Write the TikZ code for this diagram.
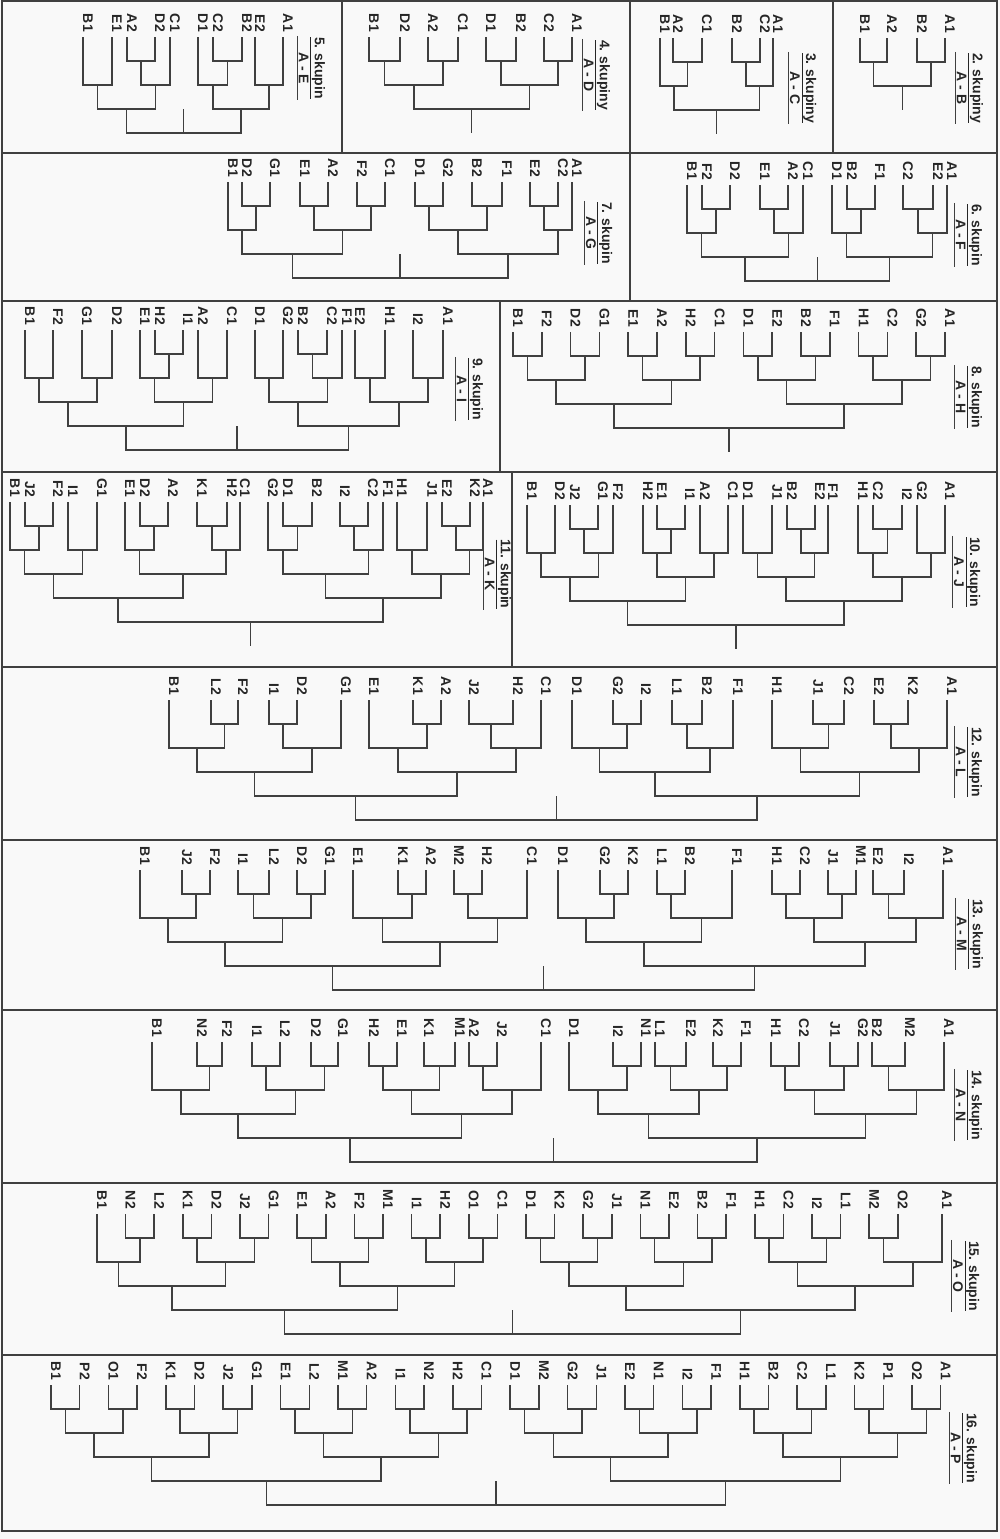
\documentclass[tikz,border=0pt]{standalone}
\usepackage{fontspec}
\setmainfont{Liberation Sans}
\usetikzlibrary{calc}
\newcommand\mkleaf[3]{%
  \node[lab] (t\PN x#1) at ({#2+5},{\PY-5}) {#3};
  \coordinate (n\PN x#1) at ({#2},{\PY});}
\newcommand\mkleafe[2]{\mkleaf{#1}{\PX+\PD*(#1-1)}{#2}}
\newcommand\mkfork[4]{%
  \coordinate (n\PN#1m) at ($(n\PN#2)!0.5!(n\PN#3)$);
  \coordinate (yb) at (0,{\PY+24*#4});
  \coordinate (n\PN#1) at (n\PN#1m |- yb);
  \draw[br] (n\PN#2) |- (n\PN#1) -| (n\PN#3);}
\newcommand\mkstem[2]{%
  \coordinate (n\PN s) at ($(n\PN#1)+(0,{24*#2})$);
  \draw[br] (n\PN#1) -- (n\PN s);}
\newcommand\mktitle[4]{%
  \node[ttl] (T\PN) at (#1,#2) {\underline{#3}\\#4};
  \draw[br] (T\PN.south west) -- (T\PN.south east);}
\newcommand\mktop[1]{%
  \mkfork{c1}{b1}{b2}{3}\mkfork{c2}{b3}{b4}{3}\mkfork{c3}{b5}{b6}{3}\mkfork{c4}{b7}{b8}{3}%
  \mkfork{d1}{c1}{c2}{4}\mkfork{d2}{c3}{c4}{4}\mkfork{z}{d1}{d2}{5}\mkstem{z}{#1}}
\begin{document}
\begin{tikzpicture}[x=1pt,y=-1pt,
  lab/.style={rotate=-90,anchor=east,inner sep=0pt,font=\bfseries\fontsize{14}{16}\selectfont,text=black!85},
  ttl/.style={rotate=-90,align=center,inner sep=1pt,font=\bfseries\fontsize{14}{16}\selectfont,text=black!85},
  br/.style={line width=1.5pt,draw=black!75},
  frm/.style={line width=2.4pt,draw=black!75}]
\fill[gray!5] (0,0) rectangle (1000,1539);
\useasboundingbox (0,0) rectangle (1000,1539);
% frame and separators
\draw[frm] (2,1) rectangle (997,1531);
\draw[frm] (2,153) -- (997,153);
\draw[frm] (2,301) -- (997,301);
\draw[frm] (2,472) -- (997,472);
\draw[frm] (2,667) -- (997,667);
\draw[frm] (2,840) -- (997,840);
\draw[frm] (2,1010) -- (997,1010);
\draw[frm] (2,1183) -- (997,1183);
\draw[frm] (2,1355) -- (997,1355);
\draw[frm] (342,1) -- (342,153);
\draw[frm] (630,1) -- (630,153);
\draw[frm] (833,1) -- (833,153);
\draw[frm] (630,153) -- (630,301);
\draw[frm] (500,301) -- (500,472);
\draw[frm] (512,472) -- (512,667);
% ---------- 2. skupiny
\def\PN{2}\def\PY{38}
\mkleaf{1}{860}{B1}\mkleaf{2}{887}{A2}\mkleaf{3}{917}{B2}\mkleaf{4}{945}{A1}
\mkfork{a}{x1}{x2}{1}\mkfork{b}{x3}{x4}{1}\mkfork{z}{a}{b}{2}\mkstem{z}{1}
\mktitle{970}{88}{2. skupiny}{A - B}
% ---------- 3. skupiny
\def\PN{3}\def\PY{38}
\mkleaf{1}{660}{B1}\mkleaf{2}{673}{A2}\mkleaf{3}{702}{C1}\mkleaf{4}{732}{B2}\mkleaf{5}{760}{C2}\mkleaf{6}{773}{A1}
\mkfork{a}{x2}{x3}{1}\mkfork{b}{x4}{x5}{1}\mkfork{c}{x1}{a}{2}\mkfork{d}{b}{x6}{2}\mkfork{z}{c}{d}{3}\mkstem{z}{1}
\mktitle{803}{88}{3. skupiny}{A - C}
% ---------- 4. skupiny
\def\PN{4}\def\PY{37}
\mkleaf{1}{369}{B1}\mkleaf{2}{400}{D2}\mkleaf{3}{428}{A2}\mkleaf{4}{458}{C1}\mkleaf{5}{486}{D1}\mkleaf{6}{516}{B2}\mkleaf{7}{544}{C2}\mkleaf{8}{572}{A1}
\mkfork{a}{x1}{x2}{1}\mkfork{b}{x3}{x4}{1}\mkfork{c}{x5}{x6}{1}\mkfork{d}{x7}{x8}{1}\mkfork{e}{a}{b}{2}\mkfork{f}{c}{d}{2}\mkfork{z}{e}{f}{3}\mkstem{z}{1}
\mktitle{597}{75}{4. skupiny}{A - D}
% ---------- 5. skupin
\def\PN{5}\def\PY{37}
\mkleaf{1}{83}{B1}\mkleaf{2}{112}{E1}\mkleaf{3}{127}{A2}\mkleaf{4}{155}{D2}\mkleaf{5}{170}{C1}\mkleaf{6}{198}{D1}\mkleaf{7}{213}{C2}\mkleaf{8}{242}{B2}\mkleaf{9}{255}{E2}\mkleaf{10}{283}{A1}
\mkfork{a}{x3}{x4}{1}\mkfork{b}{x7}{x8}{1}\mkfork{c}{x1}{x2}{2}\mkfork{d}{a}{x5}{2}\mkfork{e}{x6}{b}{2}\mkfork{f}{x9}{x10}{2}\mkfork{g}{c}{d}{3}\mkfork{h}{e}{f}{3}\mkfork{z}{g}{h}{4}\mkstem{z}{-1}
\mktitle{312}{68}{5. skupin}{A - E}
% ---------- 6. skupin
\def\PN{6}\def\PY{185}
\mkleaf{1}{687}{B1}\mkleaf{2}{702}{F2}\mkleaf{3}{730}{D2}\mkleaf{4}{760}{E1}\mkleaf{5}{788}{A2}\mkleaf{6}{803}{C1}\mkleaf{7}{832}{D1}\mkleaf{8}{847}{B2}\mkleaf{9}{875}{F1}\mkleaf{10}{903}{C2}\mkleaf{11}{933}{E2}\mkleaf{12}{947}{A1}
\mkfork{a}{x2}{x3}{1}\mkfork{b}{x4}{x5}{1}\mkfork{c}{x8}{x9}{1}\mkfork{d}{x10}{x11}{1}\mkfork{e}{x1}{a}{2}\mkfork{f}{b}{x6}{2}\mkfork{g}{x7}{c}{2}\mkfork{h}{d}{x12}{2}\mkfork{i}{e}{f}{3}\mkfork{k}{g}{h}{3}\mkfork{z}{i}{k}{4}\mkstem{z}{-1}
\mktitle{969}{235}{6. skupin}{A - F}
% ---------- 7. skupin
\def\PN{7}\def\PY{182}
\mkleaf{1}{228}{B1}\mkleaf{2}{242}{D2}\mkleaf{3}{270}{G1}\mkleaf{4}{300}{E1}\mkleaf{5}{328}{A2}\mkleaf{6}{357}{F2}\mkleaf{7}{385}{C1}\mkleaf{8}{415}{D1}\mkleaf{9}{443}{G2}\mkleaf{10}{472}{B2}\mkleaf{11}{502}{F1}\mkleaf{12}{530}{E2}\mkleaf{13}{558}{C2}\mkleaf{14}{572}{A1}
\mkfork{a}{x2}{x3}{1}\mkfork{b}{x4}{x5}{1}\mkfork{c}{x6}{x7}{1}\mkfork{d}{x8}{x9}{1}\mkfork{e}{x10}{x11}{1}\mkfork{f}{x12}{x13}{1}
\mkfork{g}{x1}{a}{2}\mkfork{h}{b}{c}{2}\mkfork{i}{d}{e}{2}\mkfork{k}{f}{x14}{2}\mkfork{l}{g}{h}{3}\mkfork{m}{i}{k}{3}\mkfork{z}{l}{m}{4}\mkstem{z}{-1}
\mktitle{599}{233}{7. skupin}{A - G}
% ---------- 8. skupin
\def\PN{8}\def\PY{332}\def\PX{513}\def\PD{28.8}
\mkleafe{1}{B1}\mkleafe{2}{F2}\mkleafe{3}{D2}\mkleafe{4}{G1}\mkleafe{5}{E1}\mkleafe{6}{A2}\mkleafe{7}{H2}\mkleafe{8}{C1}\mkleafe{9}{D1}\mkleafe{10}{E2}\mkleafe{11}{B2}\mkleafe{12}{F1}\mkleafe{13}{H1}\mkleafe{14}{C2}\mkleafe{15}{G2}\mkleafe{16}{A1}
\mkfork{a1}{x1}{x2}{1}\mkfork{a2}{x3}{x4}{1}\mkfork{a3}{x5}{x6}{1}\mkfork{a4}{x7}{x8}{1}\mkfork{a5}{x9}{x10}{1}\mkfork{a6}{x11}{x12}{1}\mkfork{a7}{x13}{x14}{1}\mkfork{a8}{x15}{x16}{1}
\mkfork{b1}{a1}{a2}{2}\mkfork{b2}{a3}{a4}{2}\mkfork{b3}{a5}{a6}{2}\mkfork{b4}{a7}{a8}{2}
\mkfork{c1}{b1}{b2}{3}\mkfork{c2}{b3}{b4}{3}\mkfork{z}{c1}{c2}{4}\mkstem{z}{1}
\mktitle{969}{397}{8. skupin}{A - H}
% ---------- 9. skupin
\def\PN{9}\def\PY{330}
\mkleaf{1}{25}{B1}\mkleaf{2}{53}{F2}\mkleaf{3}{82}{G1}\mkleaf{4}{112}{D2}\mkleaf{5}{140}{E1}\mkleaf{6}{155}{H2}\mkleaf{7}{183}{I1}\mkleaf{8}{198}{A2}\mkleaf{9}{227}{C1}\mkleaf{10}{255}{D1}\mkleaf{11}{283}{G2}\mkleaf{12}{298}{B2}\mkleaf{13}{327}{C2}\mkleaf{14}{342}{F1}\mkleaf{15}{355}{E2}\mkleaf{16}{385}{H1}\mkleaf{17}{413}{I2}\mkleaf{18}{443}{A1}
\mkfork{a}{x6}{x7}{1}\mkfork{b}{x12}{x13}{1}
\mkfork{b1}{x1}{x2}{2}\mkfork{b2}{x3}{x4}{2}\mkfork{b3}{x5}{a}{2}\mkfork{b4}{x8}{x9}{2}\mkfork{b5}{x10}{x11}{2}\mkfork{b6}{b}{x14}{2}\mkfork{b7}{x15}{x16}{2}\mkfork{b8}{x17}{x18}{2}
\mktop{-1}
\mktitle{470}{389}{9. skupin}{A - I}
% ---------- 10. skupin
\def\PN{10}\def\PY{505}
\mkleaf{1}{527}{B1}\mkleaf{2}{555}{D2}\mkleaf{3}{570}{J2}\mkleaf{4}{598}{G1}\mkleaf{5}{613}{F2}\mkleaf{6}{643}{H2}\mkleaf{7}{657}{E1}\mkleaf{8}{685}{I1}\mkleaf{9}{700}{A2}\mkleaf{10}{728}{C1}\mkleaf{11}{743}{D1}\mkleaf{12}{772}{J1}\mkleaf{13}{787}{B2}\mkleaf{14}{815}{E2}\mkleaf{15}{828}{F1}\mkleaf{16}{858}{H1}\mkleaf{17}{873}{C2}\mkleaf{18}{902}{I2}\mkleaf{19}{917}{G2}\mkleaf{20}{945}{A1}
\mkfork{a}{x3}{x4}{1}\mkfork{b}{x7}{x8}{1}\mkfork{c}{x13}{x14}{1}\mkfork{d}{x17}{x18}{1}
\mkfork{b1}{x1}{x2}{2}\mkfork{b2}{a}{x5}{2}\mkfork{b3}{x6}{b}{2}\mkfork{b4}{x9}{x10}{2}\mkfork{b5}{x11}{x12}{2}\mkfork{b6}{c}{x15}{2}\mkfork{b7}{x16}{d}{2}\mkfork{b8}{x19}{x20}{2}
\mktop{1}
\mktitle{967}{572}{10. skupin}{A - J}
% ---------- 11. skupin
\def\PN{11}\def\PY{502}
\mkleaf{1}{10}{B1}\mkleaf{2}{25}{J2}\mkleaf{3}{53}{F2}\mkleaf{4}{68}{I1}\mkleaf{5}{97}{G1}\mkleaf{6}{125}{E1}\mkleaf{7}{140}{D2}\mkleaf{8}{168}{A2}\mkleaf{9}{197}{K1}\mkleaf{10}{227}{H2}\mkleaf{11}{240}{C1}\mkleaf{12}{268}{G2}\mkleaf{13}{283}{D1}\mkleaf{14}{312}{B2}\mkleaf{15}{340}{I2}\mkleaf{16}{368}{C2}\mkleaf{17}{383}{F1}\mkleaf{18}{397}{H1}\mkleaf{19}{427}{J1}\mkleaf{20}{442}{E2}\mkleaf{21}{470}{K2}\mkleaf{22}{483}{A1}
\mkfork{a}{x2}{x3}{1}\mkfork{b}{x7}{x8}{1}\mkfork{c}{x9}{x10}{1}\mkfork{d}{x13}{x14}{1}\mkfork{e}{x15}{x16}{1}\mkfork{f}{x20}{x21}{1}
\mkfork{b1}{x1}{a}{2}\mkfork{b2}{x4}{x5}{2}\mkfork{b3}{x6}{b}{2}\mkfork{b4}{c}{x11}{2}\mkfork{b5}{x12}{d}{2}\mkfork{b6}{e}{x17}{2}\mkfork{b7}{x18}{x19}{2}\mkfork{b8}{f}{x22}{2}
\mktop{1}
\mktitle{498}{574}{11. skupin}{A - K}
% ---------- 12. skupin
\def\PN{12}\def\PY{700}
\mkleaf{1}{169}{B1}\mkleaf{2}{211}{L2}\mkleaf{3}{238}{F2}\mkleaf{4}{269}{I1}\mkleaf{5}{297}{D2}\mkleaf{6}{341}{G1}\mkleaf{7}{369}{E1}\mkleaf{8}{413}{K1}\mkleaf{9}{441}{A2}\mkleaf{10}{469}{J2}\mkleaf{11}{513}{H2}\mkleaf{12}{541}{C1}\mkleaf{13}{572}{D1}\mkleaf{14}{613}{G2}\mkleaf{15}{641}{I2}\mkleaf{16}{672}{L1}\mkleaf{17}{702}{B2}\mkleaf{18}{733}{F1}\mkleaf{19}{772}{H1}\mkleaf{20}{813}{J1}\mkleaf{21}{844}{C2}\mkleaf{22}{874}{E2}\mkleaf{23}{908}{K2}\mkleaf{24}{947}{A1}
\mkfork{a1}{x2}{x3}{1}\mkfork{a2}{x4}{x5}{1}\mkfork{a3}{x8}{x9}{1}\mkfork{a4}{x10}{x11}{1}\mkfork{a5}{x14}{x15}{1}\mkfork{a6}{x16}{x17}{1}\mkfork{a7}{x20}{x21}{1}\mkfork{a8}{x22}{x23}{1}
\mkfork{b1}{x1}{a1}{2}\mkfork{b2}{a2}{x6}{2}\mkfork{b3}{x7}{a3}{2}\mkfork{b4}{a4}{x12}{2}\mkfork{b5}{x13}{a5}{2}\mkfork{b6}{a6}{x18}{2}\mkfork{b7}{x19}{a7}{2}\mkfork{b8}{a8}{x24}{2}
\mktop{-1}
\mktitle{969}{762}{12. skupin}{A - L}
% ---------- 13. skupin
\def\PN{13}\def\PY{870}
\mkleaf{1}{140}{B1}\mkleaf{2}{182}{J2}\mkleaf{3}{210}{F2}\mkleaf{4}{238}{I1}\mkleaf{5}{269}{L2}\mkleaf{6}{297}{D2}\mkleaf{7}{325}{G1}\mkleaf{8}{353}{E1}\mkleaf{9}{398}{K1}\mkleaf{10}{426}{A2}\mkleaf{11}{454}{M2}\mkleaf{12}{482}{H2}\mkleaf{13}{527}{C1}\mkleaf{14}{558}{D1}\mkleaf{15}{600}{G2}\mkleaf{16}{628}{K2}\mkleaf{17}{657}{L1}\mkleaf{18}{685}{B2}\mkleaf{19}{732}{F1}\mkleaf{20}{772}{H1}\mkleaf{21}{800}{C2}\mkleaf{22}{828}{J1}\mkleaf{23}{856}{M1}\mkleaf{24}{873}{E2}\mkleaf{25}{904}{I2}\mkleaf{26}{943}{A1}
\mkfork{a1}{x2}{x3}{1}\mkfork{a2}{x4}{x5}{1}\mkfork{a3}{x6}{x7}{1}\mkfork{a4}{x9}{x10}{1}\mkfork{a5}{x11}{x12}{1}\mkfork{a6}{x15}{x16}{1}\mkfork{a7}{x17}{x18}{1}\mkfork{a8}{x20}{x21}{1}\mkfork{a9}{x22}{x23}{1}\mkfork{a10}{x24}{x25}{1}
\mkfork{b1}{x1}{a1}{2}\mkfork{b2}{a2}{a3}{2}\mkfork{b3}{x8}{a4}{2}\mkfork{b4}{a5}{x13}{2}\mkfork{b5}{x14}{a6}{2}\mkfork{b6}{a7}{x19}{2}\mkfork{b7}{a8}{a9}{2}\mkfork{b8}{a10}{x26}{2}
\mktop{-1}
\mktitle{970}{934}{13. skupin}{A - M}
% ---------- 14. skupin
\def\PN{14}\def\PY{1042}
\mkleaf{1}{152}{B1}\mkleaf{2}{197}{N2}\mkleaf{3}{222}{F2}\mkleaf{4}{252}{I1}\mkleaf{5}{280}{L2}\mkleaf{6}{311}{D2}\mkleaf{7}{338}{G1}\mkleaf{8}{369}{H2}\mkleaf{9}{397}{E1}\mkleaf{10}{424}{K1}\mkleaf{11}{455}{M1}\mkleaf{12}{469}{A2}\mkleaf{13}{497}{J2}\mkleaf{14}{541}{C1}\mkleaf{15}{569}{D1}\mkleaf{16}{613}{I2}\mkleaf{17}{641}{N1}\mkleaf{18}{655}{L1}\mkleaf{19}{686}{E2}\mkleaf{20}{713}{K2}\mkleaf{21}{741}{F1}\mkleaf{22}{771}{H1}\mkleaf{23}{799}{C2}\mkleaf{24}{830}{J1}\mkleaf{25}{858}{G2}\mkleaf{26}{872}{B2}\mkleaf{27}{905}{M2}\mkleaf{28}{944}{A1}
\mkfork{a1}{x2}{x3}{1}\mkfork{a2}{x4}{x5}{1}\mkfork{a3}{x6}{x7}{1}\mkfork{a4}{x8}{x9}{1}\mkfork{a5}{x10}{x11}{1}\mkfork{a6}{x12}{x13}{1}\mkfork{a7}{x16}{x17}{1}\mkfork{a8}{x18}{x19}{1}\mkfork{a9}{x20}{x21}{1}\mkfork{a10}{x22}{x23}{1}\mkfork{a11}{x24}{x25}{1}\mkfork{a12}{x26}{x27}{1}
\mkfork{b1}{x1}{a1}{2}\mkfork{b2}{a2}{a3}{2}\mkfork{b3}{a4}{a5}{2}\mkfork{b4}{a6}{x14}{2}\mkfork{b5}{x15}{a7}{2}\mkfork{b6}{a8}{a9}{2}\mkfork{b7}{a10}{a11}{2}\mkfork{b8}{a12}{x28}{2}
\mktop{-1}
\mktitle{969}{1105}{14. skupin}{A - N}
% ---------- 15. skupin
\def\PN{15}\def\PY{1214}\def\PX{97}\def\PD{28.6}
\mkleafe{1}{B1}\mkleafe{2}{N2}\mkleafe{3}{L2}\mkleafe{4}{K1}\mkleafe{5}{D2}\mkleafe{6}{J2}\mkleafe{7}{G1}\mkleafe{8}{E1}\mkleafe{9}{A2}\mkleafe{10}{F2}\mkleafe{11}{M1}\mkleafe{12}{I1}\mkleafe{13}{H2}\mkleafe{14}{O1}\mkleafe{15}{C1}\mkleafe{16}{D1}\mkleafe{17}{K2}\mkleafe{18}{G2}\mkleafe{19}{J1}\mkleafe{20}{N1}\mkleafe{21}{E2}\mkleafe{22}{B2}\mkleafe{23}{F1}\mkleafe{24}{H1}\mkleafe{25}{C2}\mkleafe{26}{I2}\mkleafe{27}{L1}\mkleafe{28}{M2}\mkleafe{29}{O2}\mkleaf{30}{942}{A1}
\mkfork{a1}{x2}{x3}{1}\mkfork{a2}{x4}{x5}{1}\mkfork{a3}{x6}{x7}{1}\mkfork{a4}{x8}{x9}{1}\mkfork{a5}{x10}{x11}{1}\mkfork{a6}{x12}{x13}{1}\mkfork{a7}{x14}{x15}{1}\mkfork{a8}{x16}{x17}{1}\mkfork{a9}{x18}{x19}{1}\mkfork{a10}{x20}{x21}{1}\mkfork{a11}{x22}{x23}{1}\mkfork{a12}{x24}{x25}{1}\mkfork{a13}{x26}{x27}{1}\mkfork{a14}{x28}{x29}{1}
\mkfork{b1}{x1}{a1}{2}\mkfork{b2}{a2}{a3}{2}\mkfork{b3}{a4}{a5}{2}\mkfork{b4}{a6}{a7}{2}\mkfork{b5}{a8}{a9}{2}\mkfork{b6}{a10}{a11}{2}\mkfork{b7}{a12}{a13}{2}\mkfork{b8}{a14}{x30}{2}
\mktop{-1}
\mktitle{966}{1276}{15. skupin}{A - O}
% ---------- 16. skupin
\def\PN{16}\def\PY{1385}\def\PX{51}\def\PD{28.7}
\mkleafe{1}{B1}\mkleafe{2}{P2}\mkleafe{3}{O1}\mkleafe{4}{F2}\mkleafe{5}{K1}\mkleafe{6}{D2}\mkleafe{7}{J2}\mkleafe{8}{G1}\mkleafe{9}{E1}\mkleafe{10}{L2}\mkleafe{11}{M1}\mkleafe{12}{A2}\mkleafe{13}{I1}\mkleafe{14}{N2}\mkleafe{15}{H2}\mkleafe{16}{C1}\mkleafe{17}{D1}\mkleafe{18}{M2}\mkleafe{19}{G2}\mkleafe{20}{J1}\mkleafe{21}{E2}\mkleafe{22}{N1}\mkleafe{23}{I2}\mkleafe{24}{F1}\mkleafe{25}{H1}\mkleafe{26}{B2}\mkleafe{27}{C2}\mkleafe{28}{L1}\mkleafe{29}{K2}\mkleafe{30}{P1}\mkleafe{31}{O2}\mkleafe{32}{A1}
\mkfork{a1}{x1}{x2}{1}\mkfork{a2}{x3}{x4}{1}\mkfork{a3}{x5}{x6}{1}\mkfork{a4}{x7}{x8}{1}\mkfork{a5}{x9}{x10}{1}\mkfork{a6}{x11}{x12}{1}\mkfork{a7}{x13}{x14}{1}\mkfork{a8}{x15}{x16}{1}\mkfork{a9}{x17}{x18}{1}\mkfork{a10}{x19}{x20}{1}\mkfork{a11}{x21}{x22}{1}\mkfork{a12}{x23}{x24}{1}\mkfork{a13}{x25}{x26}{1}\mkfork{a14}{x27}{x28}{1}\mkfork{a15}{x29}{x30}{1}\mkfork{a16}{x31}{x32}{1}
\mkfork{b1}{a1}{a2}{2}\mkfork{b2}{a3}{a4}{2}\mkfork{b3}{a5}{a6}{2}\mkfork{b4}{a7}{a8}{2}\mkfork{b5}{a9}{a10}{2}\mkfork{b6}{a11}{a12}{2}\mkfork{b7}{a13}{a14}{2}\mkfork{b8}{a15}{a16}{2}
\mktop{-1}
\mktitle{964}{1448}{16. skupin}{A - P}
\end{tikzpicture}
\end{document}
